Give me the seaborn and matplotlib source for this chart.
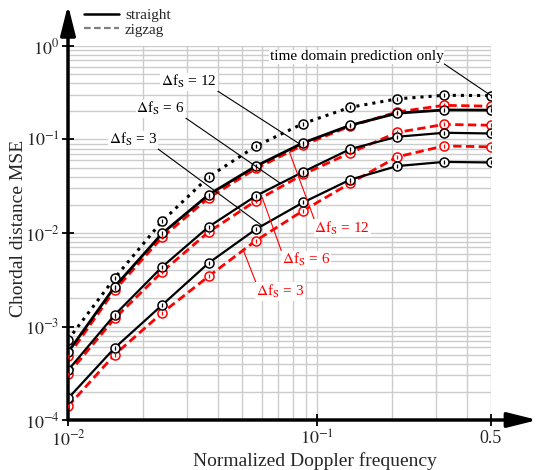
import numpy as np
import pandas as pd
import seaborn as sns
import matplotlib.pyplot as plt
from matplotlib.lines import Line2D

# normalized doppler frequencies (x) and chordal distance MSE values
doppler = [0.01, 0.0154, 0.0239, 0.0368, 0.0569, 0.0879, 0.136, 0.21, 0.324, 0.5]

mse_time_only = [7.2e-4, 3.3e-3, 0.0134, 0.040, 0.085, 0.148, 0.221, 0.272, 0.297, 0.295]
mse_straight_12 = [5.3e-4, 2.66e-3, 9.9e-3, 0.0258, 0.052, 0.092, 0.142, 0.191, 0.207, 0.206]
mse_zigzag_12 = [4.8e-4, 2.45e-3, 9.0e-3, 0.0238, 0.049, 0.087, 0.139, 0.197, 0.232, 0.227]
mse_straight_6 = [3.4e-4, 1.33e-3, 4.35e-3, 0.0117, 0.025, 0.045, 0.079, 0.107, 0.118, 0.116]
mse_zigzag_6 = [3.1e-4, 1.22e-3, 3.85e-3, 0.0103, 0.0221, 0.0423, 0.072, 0.119, 0.145, 0.142]
mse_straight_3 = [1.7e-4, 5.9e-4, 1.7e-3, 4.8e-3, 0.011, 0.0212, 0.0372, 0.052, 0.0576, 0.0568]
mse_zigzag_3 = [1.4e-4, 5.0e-4, 1.4e-3, 3.46e-3, 8.3e-3, 0.0173, 0.0341, 0.0652, 0.0854, 0.0834]

x_ticks = [0.01, 0.1, 0.5]
x_ticklabels = ['$10^{-2}$', '$10^{-1}$', '0.5']
y_ticks = [1e-4, 1e-3, 1e-2, 1e-1, 1e0]
y_ticklabels = ['$10^{-4}$', '$10^{-3}$', '$10^{-2}$', '$10^{-1}$', '$10^{0}$']

sns.set_style('white')
plt.rcParams['font.family'] = ['Liberation Serif', 'DejaVu Serif']
plt.rcParams['mathtext.fontset'] = 'stix'

fig = plt.figure(figsize=(5.37, 4.70), dpi=100)
ax = fig.add_axes([68 / 537, 1 - 420 / 470, 423 / 537, 374 / 470])


def draw(ys, color, ls, lw, dashes=None):
    df = pd.DataFrame({'f': doppler, 'mse': ys})
    l = sns.lineplot(data=df, x='f', y='mse', ax=ax, color=color, lw=lw, ls=ls,
                     marker='o', markersize=6.5, markerfacecolor='white',
                     markeredgecolor=color, markeredgewidth=1.1, zorder=3)
    if dashes is not None:
        l.lines[-1].set_dashes(dashes)
    ax.plot(doppler, ys, ls='none', marker='|', markersize=3, color=color, mew=0.9, zorder=4)


draw(mse_time_only, 'black', ':', 2.2)
draw(mse_zigzag_12, 'red', '--', 2.0, (3, 1.6))
draw(mse_straight_12, 'black', '-', 2.0)
draw(mse_zigzag_6, 'red', '--', 2.0, (3, 1.6))
draw(mse_straight_6, 'black', '-', 1.6)
draw(mse_zigzag_3, 'red', '--', 2.0, (3, 1.6))
draw(mse_straight_3, 'black', '-', 1.6)

ax.set_xscale('log')
ax.set_yscale('log')
ax.set_xlim(0.01, 0.5)
ax.set_ylim(1e-4, 1)
ax.grid(True, which='both', color='#cccccc', lw=1.0)
ax.set_axisbelow(True)
for s in ax.spines.values():
    s.set_visible(False)

ax.set_xticks(x_ticks)
ax.set_xticklabels(x_ticklabels)
ax.set_yticks(y_ticks)
ax.set_yticklabels(y_ticklabels)
ax.minorticks_on()
ax.tick_params(which='minor', length=0)
ax.tick_params(which='major', direction='inout', length=8, width=1.3, labelsize=13, pad=2,
               left=True, bottom=True, color='black')
ax.tick_params(axis='x', pad=3)

ax.set_xlabel('Normalized Doppler frequency', fontsize=14)
ax.set_ylabel('Chordal distance MSE', fontsize=14)
ax.xaxis.set_label_coords(0.584, -0.085)
ax.yaxis.set_label_coords(-0.098, 0.513)

# axis arrows
ax.annotate('', xy=(0, 1.11), xytext=(0, 0), xycoords='axes fraction',
            arrowprops=dict(arrowstyle='-|>,head_length=1.8,head_width=0.45', lw=2.5,
                            color='black', mutation_scale=10, shrinkA=0, shrinkB=0))
ax.annotate('', xy=(1.11, 0), xytext=(0, 0), xycoords='axes fraction',
            arrowprops=dict(arrowstyle='-|>,head_length=1.8,head_width=0.45', lw=2.5,
                            color='black', mutation_scale=10, shrinkA=0, shrinkB=0))


def on_curve(ys, i, t):
    lx = np.log10(doppler[i]) * (1 - t) + np.log10(doppler[i + 1]) * t
    ly = np.log10(ys[i]) * (1 - t) + np.log10(ys[i + 1]) * t
    return 10 ** lx, 10 ** ly


def label(text, ys, i, t, pos, color, rel):
    ax.annotate(text, xy=on_curve(ys, i, t), xycoords='data', xytext=pos,
                textcoords='axes fraction', ha='center', va='center', fontsize=11,
                color=color, bbox=dict(fc='white', ec='none', pad=0.5), zorder=6,
                arrowprops=dict(arrowstyle='-', color=color, lw=0.8, shrinkA=0, shrinkB=0,
                                relpos=rel))


label('time domain prediction only', mse_time_only, 8, 1.0, (0.682, 0.971), 'black', (1, 0))
label(r'$\Delta$f$_\mathrm{S}$ = 12', mse_straight_12, 4, 0.94, (0.286, 0.904), 'black', (1, 0))
label(r'$\Delta$f$_\mathrm{S}$ = 6', mse_straight_6, 4, 0.52, (0.219, 0.832), 'black', (1, 0))
label(r'$\Delta$f$_\mathrm{S}$ = 3', mse_straight_3, 4, 0.13, (0.154, 0.749), 'black', (1, 0))
label(r'$\Delta$f$_\mathrm{S}$ = 12', mse_zigzag_12, 4, 0.71, (0.648, 0.513), 'red', (0, 1))
label(r'$\Delta$f$_\mathrm{S}$ = 6', mse_zigzag_6, 4, 0.13, (0.562, 0.428), 'red', (0, 1))
label(r'$\Delta$f$_\mathrm{S}$ = 3', mse_zigzag_3, 3, 0.73, (0.502, 0.343), 'red', (0, 1))

handles = [Line2D([], [], color='black', lw=1.8),
           Line2D([], [], color='gray', lw=1.6, ls='--', dashes=(3, 1.5))]
fig.legend(handles, ['straight', 'zigzag'], loc='upper left', bbox_to_anchor=(76 / 537, 1 - 1 / 470),
           frameon=False, fontsize=11, handlelength=2.3, labelspacing=0.05, borderpad=0,
           handletextpad=0.4)

fig.savefig('out.png', dpi=100)
